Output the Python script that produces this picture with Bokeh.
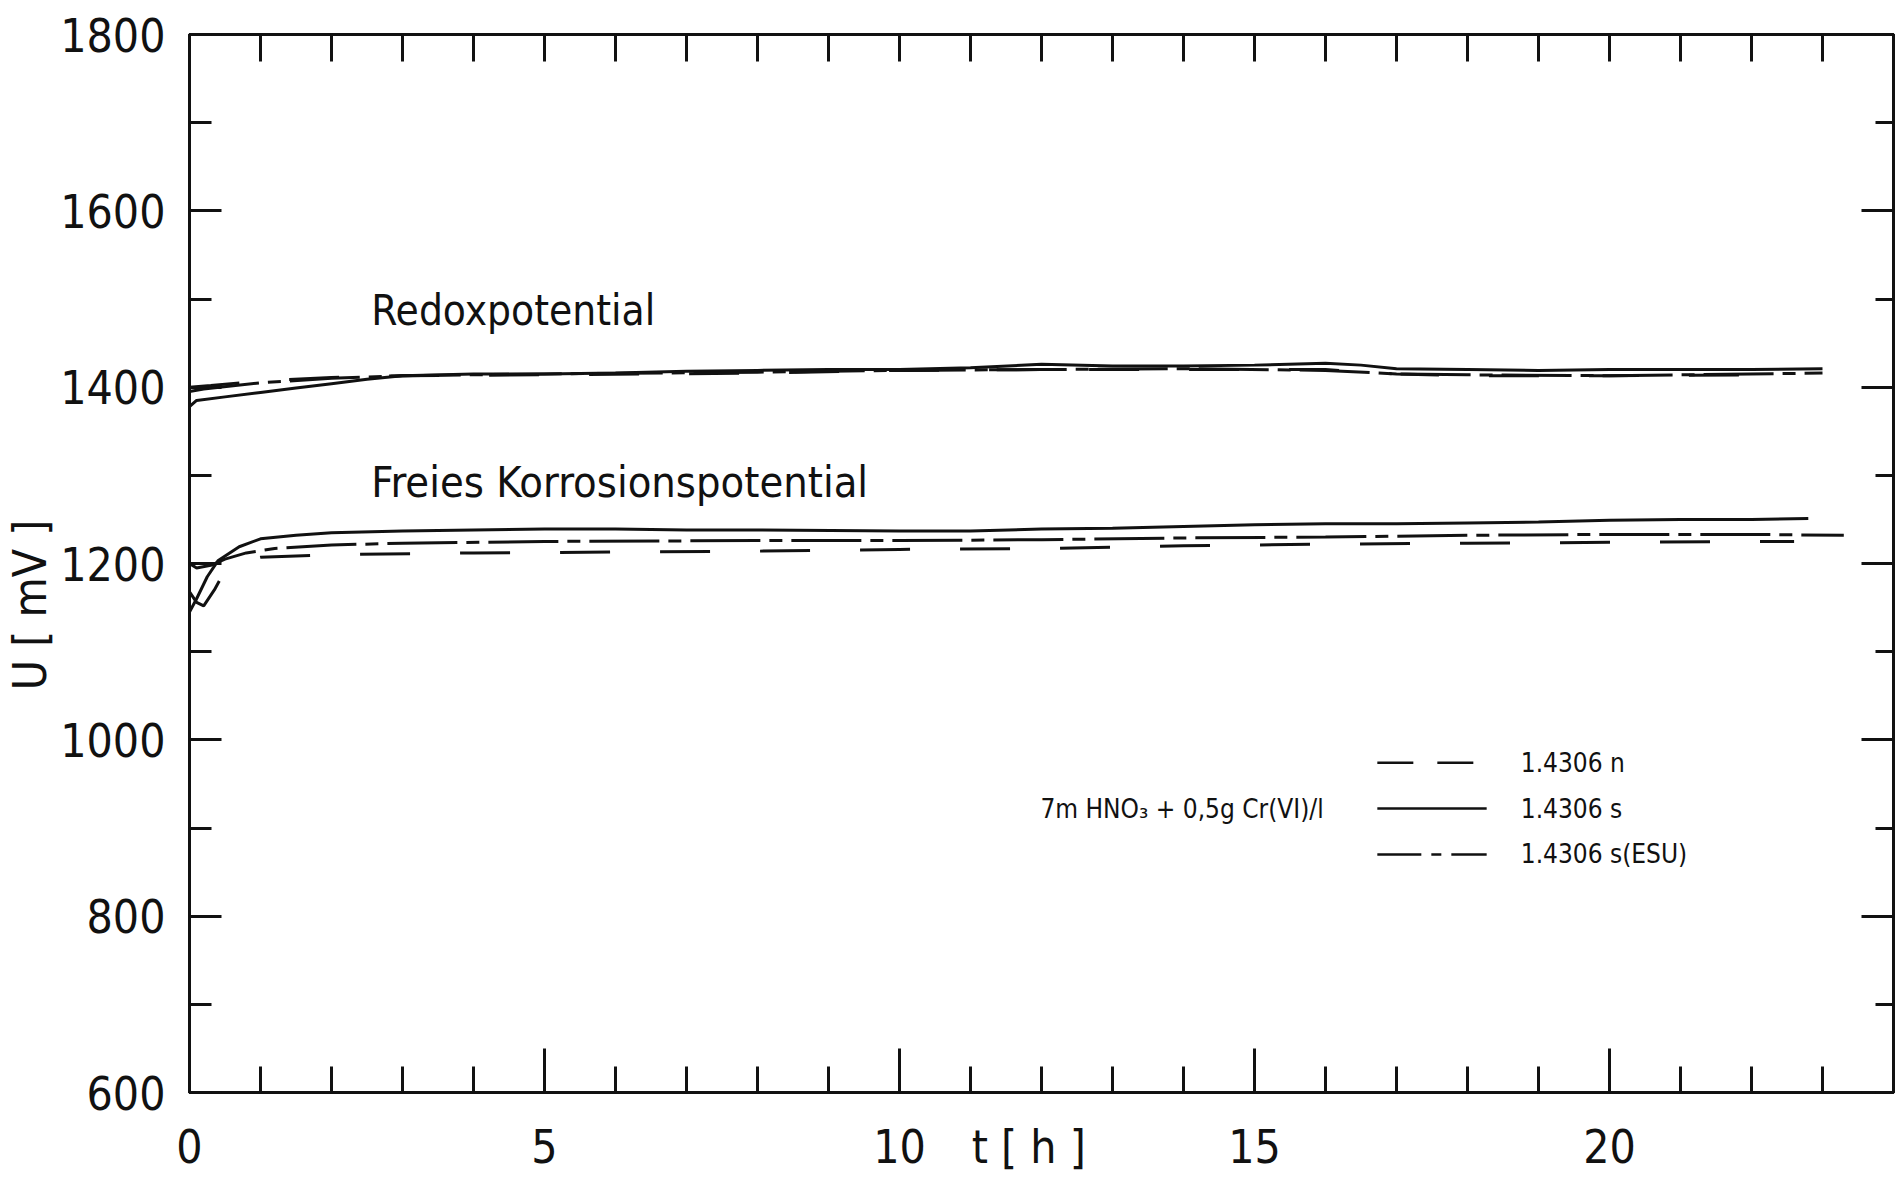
from bokeh.plotting import figure
from bokeh.models import LinearAxis, FixedTicker, Label, Range1d, CustomLabelingPolicy
from bokeh.embed import file_html
from bokeh.resources import INLINE

# ---------------- data ----------------
# Redox potential
t_redox_s = [0, 0.1, 0.5, 1, 1.5, 2, 2.5, 3, 4, 5, 6, 7, 8, 9, 10, 11, 12, 13, 14, 15, 16, 16.5, 17, 18, 19, 20, 21, 22, 23]
u_redox_s = [1378, 1385, 1389, 1394, 1399, 1404, 1409, 1413, 1415, 1415, 1416, 1418, 1419, 1420, 1420, 1422, 1426, 1424, 1424, 1425, 1427, 1425, 1421, 1420, 1419, 1420, 1420, 1420, 1421]
t_redox_n = [0, 0.3, 1, 2, 3, 5, 8, 10, 12, 14, 16, 17, 18, 20, 22.5]
u_redox_n = [1400, 1402, 1407, 1411, 1413, 1414, 1416, 1419, 1420, 1420, 1420, 1415, 1413, 1413, 1414]
t_redox_e = [0, 0.2, 1, 2, 3, 5, 8, 10, 12, 14, 16, 17, 18, 20, 23]
u_redox_e = [1395, 1398, 1405, 1410, 1413, 1415, 1417, 1419, 1420, 1421, 1419, 1415, 1414, 1413, 1416]

# Free corrosion potential
t_corr_s = [0, 0.1, 0.25, 0.4, 0.7, 1, 1.5, 2, 3, 4, 5, 6, 7, 8, 10, 11, 12, 13, 14, 15, 16, 17, 18, 19, 20, 21, 22, 22.8]
u_corr_s = [1145, 1160, 1185, 1203, 1219, 1228, 1232, 1235, 1237, 1238, 1239, 1239, 1238, 1238, 1237, 1237, 1239, 1240, 1242, 1244, 1245, 1245, 1246, 1247, 1249, 1250, 1250, 1251]
t_corr_n = [0, 0.1, 0.2, 0.35, 0.5, 0.7, 1, 2, 4, 6, 8, 10, 12, 14, 16, 18, 20, 22.6]
u_corr_n = [1168, 1156, 1152, 1170, 1192, 1202, 1207, 1210, 1212, 1213, 1214, 1216, 1217, 1220, 1222, 1223, 1224, 1225]
t_corr_e = [0, 0.1, 0.3, 0.5, 0.8, 1.2, 2, 3, 5, 8, 10, 12, 14, 16, 18, 20, 22, 23.3]
u_corr_e = [1200, 1195, 1198, 1205, 1212, 1217, 1221, 1223, 1225, 1226, 1226, 1227, 1229, 1230, 1232, 1233, 1233, 1232]

legend_names = ["1.4306 n", "1.4306 s", "1.4306 s(ESU)"]
legend_u = [974, 922, 870]
legend_t = [16.73, 18.27]
medium_text = "7m HNO\u2083 + 0,5g  Cr(VI)/l"

x_major = [0, 5, 10, 15, 20]
x_minor = list(range(0, 25))
x_title_pos = 11.82
x_title = "t [ h ]"
y_major = [600, 800, 1000, 1200, 1400, 1600, 1800]
y_minor = list(range(600, 1801, 100))
y_title_pos = 1153
y_title = "U [ mV ]"

# ---------------- styling ----------------
FONT = "DejaVu Sans Condensed"
INK = "#111111"
LW = 3
DASH_N = "50 50"
DASH_E = "70 9 13 9"

p = figure(width=1896, height=1180, output_backend="svg", toolbar_location=None,
           x_range=Range1d(0, 24), y_range=Range1d(600, 1800),
           x_axis_location=None, y_axis_location=None,
           min_border_left=188, min_border_right=3, min_border_top=34, min_border_bottom=88)
p.grid.visible = False
p.outline_line_color = INK
p.outline_line_width = LW
p.background_fill_color = "white"
p.border_fill_color = "white"


def no_labels():
    return CustomLabelingPolicy(code="return []")


# bottom axis: ticks only
xb = LinearAxis(ticker=FixedTicker(ticks=x_major, minor_ticks=x_minor), major_label_policy=no_labels())
xb.major_tick_in = 44
xb.major_tick_out = 0
xb.minor_tick_in = 26
xb.minor_tick_out = 0
xb.major_label_standoff = 0
xb.major_label_text_font_size = "0px"
p.add_layout(xb, "below")

# bottom axis: labels incl. axis title on the same line
xl_ticks = x_major[:3] + [x_title_pos] + x_major[3:]
xb2 = LinearAxis(ticker=FixedTicker(ticks=xl_ticks, minor_ticks=[]),
                 major_label_overrides={x_title_pos: x_title})
xb2.axis_line_color = None
xb2.major_tick_line_color = None
xb2.major_tick_in = 0
xb2.major_tick_out = 0
xb2.major_label_standoff = 27
xb2.major_label_text_font = FONT
xb2.major_label_text_font_size = "46px"
xb2.major_label_text_color = INK
p.add_layout(xb2, "below")

# top axis
xt = LinearAxis(ticker=FixedTicker(ticks=x_minor, minor_ticks=[]), major_label_policy=no_labels())
xt.major_tick_in = 27
xt.major_tick_out = 0
xt.major_label_standoff = 0
xt.major_label_text_font_size = "0px"
p.add_layout(xt, "above")

# left axis
yl = LinearAxis(ticker=FixedTicker(ticks=y_major, minor_ticks=y_minor))
yl.major_tick_in = 32
yl.major_tick_out = 0
yl.minor_tick_in = 22
yl.minor_tick_out = 0
yl.major_label_standoff = 24
yl.major_label_text_font = FONT
yl.major_label_text_font_size = "46px"
yl.major_label_text_color = INK
p.add_layout(yl, "left")

# left axis title (as positioned tick label)
yl2 = LinearAxis(ticker=FixedTicker(ticks=[y_title_pos], minor_ticks=[]),
                 major_label_overrides={y_title_pos: y_title})
yl2.axis_line_color = None
yl2.major_tick_line_color = None
yl2.major_tick_in = 0
yl2.major_tick_out = 0
yl2.major_label_standoff = 0
yl2.major_label_orientation = "vertical"
yl2.major_label_text_font = FONT
yl2.major_label_text_font_size = "46px"
yl2.major_label_text_color = INK
p.add_layout(yl2, "left")

# right axis
yr = LinearAxis(ticker=FixedTicker(ticks=y_major, minor_ticks=y_minor), major_label_policy=no_labels())
yr.major_tick_in = 32
yr.major_tick_out = 0
yr.minor_tick_in = 18
yr.minor_tick_out = 0
yr.major_label_standoff = 0
yr.major_label_text_font_size = "0px"
p.add_layout(yr, "right")

for ax in (xb, xt, yl, yr):
    ax.axis_line_width = LW
    ax.axis_line_color = INK
    ax.major_tick_line_width = LW
    ax.minor_tick_line_width = LW
    ax.major_tick_line_color = INK
    ax.minor_tick_line_color = INK

# curves
p.line(t_redox_s, u_redox_s, line_color=INK, line_width=LW)
p.line(t_redox_n, u_redox_n, line_color=INK, line_width=LW, line_dash=DASH_N)
p.line(t_redox_e, u_redox_e, line_color=INK, line_width=LW, line_dash=DASH_E)
p.line(t_corr_s, u_corr_s, line_color=INK, line_width=LW)
p.line(t_corr_n, u_corr_n, line_color=INK, line_width=LW, line_dash=DASH_N)
p.line(t_corr_e, u_corr_e, line_color=INK, line_width=LW, line_dash=DASH_E)

# legend lines
dashes = ["36 24", "solid", "44 10 10 10"]
for uu, dd in zip(legend_u, dashes):
    p.line(legend_t, [uu, uu], line_color=INK, line_width=2.5, line_dash=dd)
for uu, name in zip(legend_u, legend_names):
    p.add_layout(Label(x=18.75, y=uu, text=name, text_font=FONT, text_font_size="26px",
                       text_color=INK, text_baseline="middle", text_align="left"))
p.add_layout(Label(x=16.08, y=legend_u[1], text=medium_text, text_font=FONT, text_font_size="26px",
                   text_color=INK, text_baseline="middle", text_align="right"))

# curve annotations
p.add_layout(Label(x=2.56, y=1487, text="Redoxpotential", text_font=FONT, text_font_size="42px",
                   text_color=INK, text_baseline="middle", text_align="left"))
p.add_layout(Label(x=2.56, y=1293, text="Freies Korrosionspotential", text_font=FONT, text_font_size="43px",
                   text_color=INK, text_baseline="middle", text_align="left"))

open("out.html", "w").write(file_html(p, INLINE))
